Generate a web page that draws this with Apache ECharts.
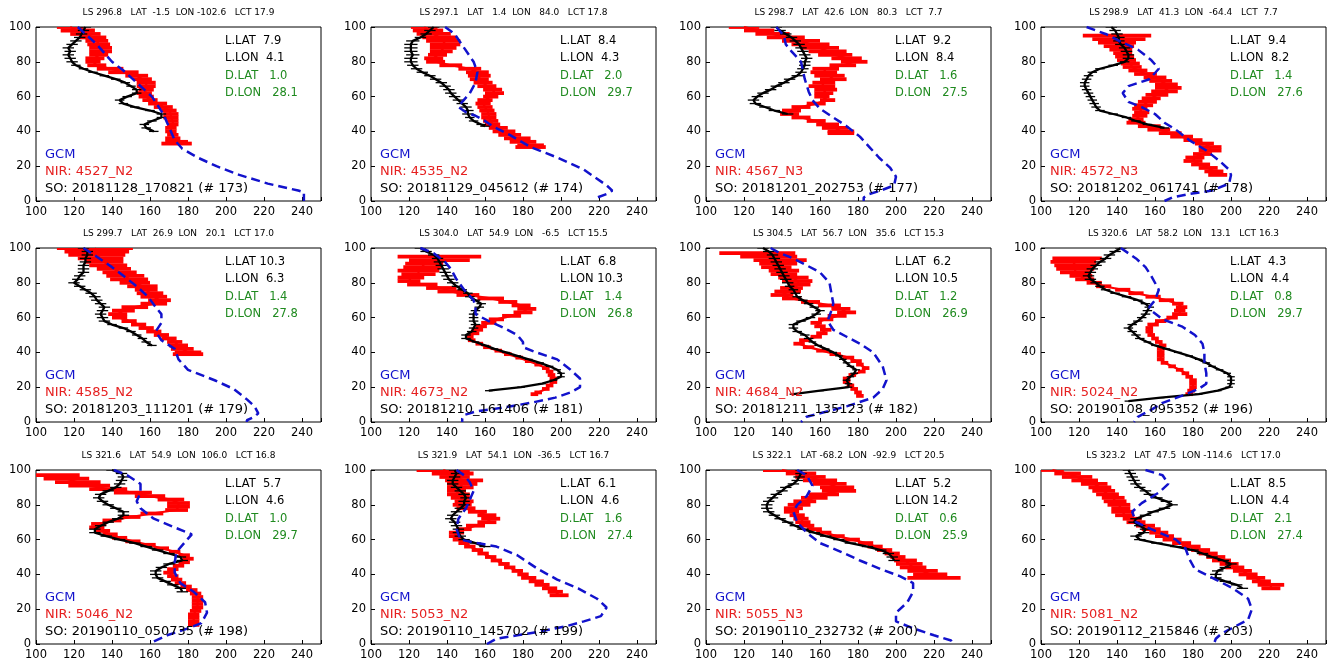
<!DOCTYPE html>
<html>
<head>
<meta charset="utf-8">
<script src="https://cdn.jsdelivr.net/npm/echarts@6/dist/echarts.min.js"></script>
<style>
  html, body { margin: 0; padding: 0; background: #fff; }
  #chart { width: 1329px; height: 664px; }
</style>
</head>
<body>
<div id="chart"></div>
<script>
// ---- Occultation metadata (one entry per panel) ----
const lsVals  = [296.8, 297.1, 298.7, 298.9, 299.7, 304.0, 304.5, 320.6, 321.6, 321.9, 322.1, 323.2];
const latVals = [-1.5, 1.4, 42.6, 41.3, 26.9, 54.9, 56.7, 58.2, 54.9, 54.1, -68.2, 47.5];
const lonVals = [-102.6, 84.0, 80.3, -64.4, 20.1, -6.5, 35.6, 13.1, 106.0, -36.5, -92.9, -114.6];
const lctVals = [17.9, 17.8, 7.7, 7.7, 17.0, 15.5, 15.3, 16.3, 16.8, 16.7, 20.5, 17.0];
const lLat = [7.9, 8.4, 9.2, 9.4, 10.3, 6.8, 6.2, 4.3, 5.7, 6.1, 5.2, 8.5];
const lLon = [4.1, 4.3, 8.4, 8.2, 6.3, 10.3, 10.5, 4.4, 4.6, 4.6, 14.2, 4.4];
const dLat = [1.0, 2.0, 1.6, 1.4, 1.4, 1.4, 1.2, 0.8, 1.0, 1.6, 0.6, 2.1];
const dLon = [28.1, 29.7, 27.5, 27.6, 27.8, 26.8, 26.9, 29.7, 29.7, 27.4, 25.9, 27.4];
const nirIds = ['4527_N2', '4535_N2', '4567_N3', '4572_N3', '4585_N2', '4673_N2',
                '4684_N2', '5024_N2', '5046_N2', '5053_N2', '5055_N3', '5081_N2'];
const soIds = ['20181128_170821', '20181129_045612', '20181201_202753', '20181202_061741',
               '20181203_111201', '20181210_161406', '20181211_135123', '20190108_095352',
               '20190110_050735', '20190110_145702', '20190110_232732', '20190112_215846'];
const soNums = [173, 174, 177, 178, 179, 181, 182, 196, 198, 199, 200, 203];

// ---- Axis ticks ----
const tempTicks = [100, 120, 140, 160, 180, 200, 220, 240];
const altTicks = [0, 20, 40, 60, 80, 100];

// ---- GCM profiles: [altitude km, temperature K] ----
const gcm_173 = [[100,122],[95,127],[90,132],[85,136],[80,140],[75,146],[70,151],[65,156],[60,161],[55,164],[50,167],[45,169],[40,171],[35,173],[30,177],[25,185],[20,195],[15,207],[10,222],[6,238],[5,241],[0,241]];
const gcm_174 = [[100,139],[96,144],[88,149],[80,154],[74,156],[68,155],[62,152],[57,148],[54,146],[51,150],[49,155],[46,160],[43,164],[38,173],[31,184],[25,198],[18,212],[9,224],[6,227],[4,224],[2,219],[0,219]];
const gcm_177 = [[100,137],[95,141],[90,142],[86,145],[80,150],[75,151],[70,152],[63,154],[58,156],[53,160],[48,167],[43,174],[37,181],[31,186],[25,191],[19,197],[14,200],[9,199],[6,192],[4,186],[2,183],[0,183]];
const gcm_178 = [[100,124],[96,134],[91,143],[87,151],[81,158],[76,162],[70,157],[66,146],[62,143],[57,146],[54,153],[50,160],[45,165],[41,171],[35,178],[29,187],[23,194],[18,199],[15,200],[10,199],[6,190],[4,178],[2,169],[0,165]];
const gcm_179 = [[100,125],[95,132],[89,140],[84,146],[78,153],[72,159],[66,163],[62,166],[57,166],[52,163],[47,166],[42,173],[36,175],[30,180],[24,194],[19,204],[13,211],[9,215],[5,217],[3,215],[1,211],[0,211]];
const gcm_181 = [[100,126],[97,133],[92,139],[88,142],[82,145],[76,149],[70,154],[66,155],[62,155],[58,162],[54,170],[50,177],[46,180],[43,180],[40,187],[36,198],[30,205],[25,210],[20,210],[17,205],[14,197],[11,184],[8,168],[6,155],[4,149],[2,148],[0,148]];
const gcm_182 = [[100,134],[97,139],[94,146],[90,153],[86,160],[80,165],[74,166],[68,167],[64,166],[58,164],[53,167],[49,174],[45,181],[40,188],[32,193],[24,195],[19,193],[14,188],[9,174],[5,160],[3,153],[0,150]];
const gcm_196 = [[100,142],[97,146],[94,150],[89,155],[84,158],[76,162],[70,160],[66,157],[64,158],[59,164],[55,174],[50,181],[45,185],[40,186],[34,186],[28,187],[22,187],[19,183],[15,174],[11,164],[7,158],[3,151],[0,149]];
const gcm_198 = [[100,141],[97,148],[92,155],[87,155],[82,153],[78,155],[72,162],[67,173],[63,182],[58,178],[53,174],[47,173],[41,173],[35,176],[30,183],[24,189],[18,190],[12,187],[9,180],[5,169],[1,161],[0,162]];
const gcm_199 = [[100,145],[97,149],[93,152],[88,154],[83,152],[78,150],[72,146],[66,145],[60,147],[58,156],[56,166],[51,177],[43,188],[37,198],[32,209],[26,219],[21,224],[16,221],[13,212],[10,202],[7,188],[5,177],[3,166],[0,161]];
const gcm_200 = [[100,148],[97,153],[91,156],[85,153],[80,148],[76,146],[70,148],[64,153],[58,160],[53,171],[48,181],[43,192],[39,202],[35,209],[30,209],[24,206],[18,200],[13,200],[9,209],[5,220],[2,229],[0,230]];
const gcm_203 = [[100,155],[97,164],[92,167],[87,162],[81,153],[76,148],[70,150],[66,158],[60,171],[55,176],[49,178],[43,181],[37,192],[32,201],[26,209],[20,211],[14,209],[10,202],[6,195],[3,192],[0,191]];

// ---- NOMAD NIR retrievals: [altitude km, temperature K, 1-sigma K] ----
const nir_4527 = [[100,118,7],[98,122,9],[96,126,8],[94,130,7],[92,132,6],[90,133,6],[88,134,6],[86,134,6],[84,133,5],[82,131,5],[80,130,4],[78,132,5],[76,139,7],[74,146,8],[72,153,6],[70,156,5],[68,158,5],[66,158,5],[64,158,4],[62,157,4],[60,158,4],[58,160,4],[56,164,5],[54,167,5],[52,170,4],[50,171,4],[48,171,4],[46,172,3],[44,172,3],[42,171,3],[40,171,3],[38,172,3],[36,172,4],[34,174,6],[33,174,8]];
const nir_4535 = [[100,128,7],[98,130,8],[96,133,9],[94,136,9],[92,138,9],[90,139,8],[88,138,7],[86,137,6],[84,135,5],[82,133,5],[80,134,5],[78,142,6],[76,152,6],[74,156,6],[72,157,6],[70,157,5],[68,159,5],[66,161,5],[64,164,5],[62,165,5],[60,163,4],[58,160,4],[56,159,4],[54,160,4],[52,161,4],[50,162,4],[48,162,4],[46,163,4],[44,164,4],[42,167,5],[40,170,6],[38,173,6],[36,177,7],[34,180,7],[32,184,7],[31,184,8]];
const nir_4567 = [[100,120,8],[98,128,8],[96,135,9],[94,142,10],[92,150,10],[90,155,10],[88,160,10],[86,164,10],[84,168,9],[82,174,8],[80,178,7],[78,172,7],[76,163,7],[74,162,7],[72,165,8],[70,167,7],[68,162,6],[66,161,7],[64,163,6],[62,162,5],[60,161,4],[58,164,4],[56,158,5],[54,150,5],[52,145,5],[50,144,5],[48,150,5],[46,158,5],[44,164,6],[42,168,7],[40,171,7],[39,171,7]];
const nir_4572 = [[95,140,18],[93,141,14],[91,140,10],[89,141,8],[87,142,6],[85,143,5],[83,144,5],[81,145,5],[79,147,5],[77,148,5],[75,151,5],[73,155,6],[71,160,6],[69,163,6],[67,166,6],[65,167,7],[63,165,7],[61,161,6],[59,158,5],[57,156,5],[55,154,5],[53,152,4],[51,153,4],[49,152,4],[47,150,4],[45,150,5],[43,157,6],[41,162,6],[39,168,6],[37,174,6],[35,180,5],[33,186,5],[31,189,6],[29,189,6],[27,185,5],[25,181,5],[23,180,5],[21,184,5],[19,188,5],[17,191,5],[15,193,5]];
const nir_4585 = [[100,131,20],[98,132,17],[96,132,15],[94,134,12],[92,136,10],[90,138,10],[88,141,9],[86,144,9],[84,147,10],[82,149,10],[80,152,8],[78,156,8],[76,158,6],[74,160,7],[72,162,7],[70,165,6],[68,162,7],[66,152,7],[64,146,6],[62,143,5],[60,144,4],[58,149,4],[56,154,4],[54,158,4],[52,162,4],[50,166,4],[48,170,4],[46,173,4],[44,175,5],[42,177,6],[40,180,7],[39,180,8]];
const nir_4673 = [[95,136,22],[93,136,16],[91,128,10],[89,127,10],[87,125,11],[85,125,9],[83,121,7],[81,120,6],[79,127,8],[77,137,8],[75,142,7],[73,151,6],[71,163,7],[69,172,5],[67,179,5],[65,182,5],[63,180,5],[61,174,5],[59,166,4],[57,162,4],[55,158,3],[53,156,3],[51,154,3],[49,152,2],[47,153,2],[45,157,2],[43,161,2],[41,167,2],[39,172,2],[37,178,2],[35,183,2],[33,188,2],[31,192,2],[29,194,2],[27,195,2],[25,196,2],[23,196,2],[21,194,2],[19,192,2],[17,188,2],[16,186,2]];
const nir_4684 = [[97,127,20],[95,133,15],[93,139,14],[91,138,10],[89,137,8],[87,141,8],[85,141,7],[83,146,8],[81,148,8],[79,149,6],[77,145,6],[75,143,7],[73,140,6],[71,145,5],[69,155,5],[67,165,6],[65,171,5],[63,174,5],[61,169,5],[59,163,4],[57,158,3],[55,160,3],[53,163,3],[51,161,3],[49,158,3],[47,152,3],[45,149,3],[43,154,3],[41,161,3],[39,168,3],[37,175,3],[35,179,3],[33,181,2],[31,184,2],[29,182,2],[27,177,2],[25,174,2],[23,174,2],[21,176,2],[19,178,2],[17,180,2],[15,181,2]];
const nir_5024 = [[94,119,13],[92,117,12],[90,118,11],[88,118,10],[86,118,8],[84,121,6],[82,123,5],[80,128,4],[78,133,4],[76,143,4],[74,150,4],[72,159,4],[70,166,4],[68,172,3],[66,174,3],[64,173,3],[62,173,4],[60,169,3],[58,163,3],[56,159,3],[54,157,2],[52,157,2],[50,158,2],[48,160,2],[46,162,2],[44,164,2],[42,163,2],[40,163,2],[38,163,2],[36,163,2],[34,165,2],[32,169,2],[30,173,2],[28,176,2],[26,178,2],[24,180,2],[22,180,2],[20,180,2],[18,179,2],[16,178,2]];
const nir_5046 = [[97,111,12],[95,116,12],[93,122,12],[91,128,11],[89,138,10],[87,151,10],[85,160,8],[83,171,7],[81,175,6],[79,175,6],[77,174,6],[75,161,6],[73,150,5],[71,140,5],[69,133,4],[67,132,4],[65,135,4],[63,139,4],[61,144,4],[59,151,4],[57,159,4],[55,166,4],[53,173,3],[51,178,3],[49,180,3],[47,178,3],[45,175,3],[43,172,3],[41,170,3],[39,172,3],[37,174,3],[35,176,3],[33,179,3],[31,182,3],[29,184,3],[27,185,3],[25,185,3],[23,185,3],[21,185,3],[19,184,3],[17,183,3],[15,183,3],[13,183,3],[11,183,3]];
const nir_5053 = [[100,138,14],[98,143,11],[96,144,8],[94,149,10],[92,148,8],[90,147,7],[88,145,5],[86,146,6],[84,147,5],[82,149,5],[80,148,5],[78,150,5],[76,156,5],[74,161,5],[72,163,5],[70,161,5],[68,155,5],[66,149,4],[64,145,4],[62,144,3],[60,146,3],[58,149,3],[56,152,3],[54,156,3],[52,159,3],[50,163,3],[48,166,3],[46,170,3],[44,173,3],[42,177,3],[40,180,3],[38,183,4],[36,187,4],[34,190,4],[32,194,4],[30,197,4],[28,199,5]];
const nir_5055 = [[100,140,10],[98,150,8],[96,155,8],[94,160,9],[92,165,9],[90,169,9],[88,170,9],[86,162,8],[84,157,7],[82,152,6],[80,149,6],[78,146,5],[76,145,4],[74,148,4],[72,150,4],[70,151,4],[68,153,4],[66,157,4],[64,162,4],[62,169,4],[60,177,4],[58,184,4],[56,189,4],[54,194,4],[52,198,4],[50,201,4],[48,205,6],[46,207,7],[44,209,7],[42,214,8],[40,218,9],[38,220,14]];
const nir_5081 = [[100,106,6],[98,114,7],[96,119,8],[94,123,7],[92,128,7],[90,131,6],[88,133,6],[86,135,6],[84,138,6],[82,139,6],[80,141,6],[78,142,5],[76,143,6],[74,144,5],[72,148,5],[70,150,5],[68,155,5],[66,158,5],[64,162,5],[62,165,5],[60,169,5],[58,174,5],[56,179,5],[54,184,5],[52,188,5],[50,192,5],[48,195,5],[46,199,5],[44,202,5],[42,206,5],[40,209,5],[38,213,5],[36,216,5],[34,221,7],[32,221,5]];

// ---- ACS/SO retrievals: [altitude km, temperature K, 1-sigma K] ----
const so_173 = [[100,126,3],[98,125,3],[96,124,3],[94,123,3],[92,121,3],[90,119,3],[88,117,3],[86,118,3],[84,117,3],[82,118,3],[80,119,3],[78,121,2.5],[76,125,2.5],[74,130,2.5],[72,136,2.5],[70,142,2.5],[68,147,2.5],[66,150,2.5],[64,153,2.5],[62,153,2.5],[60,148,2.5],[58,144,2.5],[56,146,2.5],[54,152,2.5],[52,160,2.5],[50,166,2.5],[48,166,2.5],[46,161,2.5],[44,157,2.5],[42,158,2.5],[40,162,2.5]];
const so_174 = [[100,133,3],[98,131,3],[96,129,3],[94,126,3],[92,122,3.5],[90,121,3.5],[88,121,3.5],[86,121,3.5],[84,122,3.5],[82,121,3.5],[80,121,3.5],[78,122,3],[76,124,3],[74,127,3],[72,131,3],[70,134,3],[68,137,3],[66,139,3],[64,141,3],[62,142,3],[60,144,3],[58,146,3],[56,148,3],[54,150,3],[52,151,3],[50,151,3],[48,152,2.5],[46,154,2.5],[44,158,2.5],[43,160,2.5]];
const so_177 = [[100,137,3],[98,139,3],[96,142,3],[94,145,3],[92,147,3],[90,149,3],[88,150,3],[86,151,3],[84,152,3],[82,153,3],[80,152,3],[78,152,3],[76,151,3],[74,150,3],[72,148,3],[70,144,3],[68,141,3],[66,137,3],[64,134,3],[62,130,3],[60,127,3],[58,125,3],[56,126,3],[54,131,3],[52,136,3],[50,143,3]];
const so_178 = [[100,137,3],[98,139,3],[96,140,3],[94,141,3],[92,141,3],[90,142,3],[88,144,3],[86,145,3],[84,146,3],[82,146,3],[80,144,2.5],[78,138,2.5],[76,131,2.5],[74,127,2.5],[72,125,2.5],[70,124,2.5],[68,123,2.5],[66,123,2.5],[64,124,2.5],[62,125,2.5],[60,126,2.5],[58,127,2.5],[56,128,2.5],[54,129,2.5],[52,131,2.5],[50,138,2.5],[48,145,2.5],[46,150,2.5],[44,156,2.5],[42,165,2.5]];
const so_179 = [[100,125,3],[98,127,3],[96,127,3],[94,126,3],[92,126,3],[90,125,3],[88,125,3],[86,125,3],[84,123,3],[82,122,3],[80,120,3],[78,123,3],[76,126,3],[74,129,3],[72,131,3],[70,132,3],[68,134,3],[66,136,3],[64,135,3],[62,134,3],[60,135,3],[58,136,3],[56,140,2.5],[54,146,2.5],[52,150,2.5],[50,153,2.5],[48,156,2.5],[46,158,2.5],[44,161,2.5]];
const so_181 = [[100,126,3],[98,129,3],[96,133,3],[94,135,3],[92,136,3],[90,137,3],[88,138,3],[86,139,3],[84,140,3],[82,141,3],[80,143,3],[78,145,2.5],[76,148,2.5],[74,151,2.5],[72,152,2.5],[70,155,2.5],[68,158,2.5],[66,157,2.5],[64,155,2.5],[62,154,2.5],[60,154,2.5],[58,154,2.5],[56,155,2.5],[54,154,2.5],[52,153,2.5],[50,150,2.5],[48,150,2.5],[46,155,2],[44,160,2],[42,165,2],[40,171,2],[38,177,2],[36,183,2],[34,189,2],[32,194,2],[30,198,2],[28,200,2],[26,200,2],[24,196,2],[22,190,2],[20,179,2],[18,162,2]];
const so_182 = [[100,130,3],[98,133,3],[96,135,3],[94,136,3],[92,137,3],[90,138,3],[88,139,3],[86,140,3],[84,141,3],[82,142,3],[80,143,3],[78,144,2.5],[76,146,2.5],[74,147,2.5],[72,148,2.5],[70,151,2.5],[68,154,2.5],[66,157,2.5],[64,160,2.5],[62,158,2.5],[60,155,2.5],[58,150,2.5],[56,146,2.5],[54,146,2.5],[52,148,2.5],[50,152,2.5],[48,154,2.5],[46,156,2],[44,159,2],[42,163,2],[40,167,2],[38,170,2],[36,172,2],[34,174,2],[32,176,2],[30,179,2],[28,178,2],[26,176,2],[24,174,2],[22,175,2],[20,175,2],[18,160,2],[16,146,2]];
const so_196 = [[100,142,3],[98,139,3],[96,136,3],[94,134,3],[92,131,3],[90,129,3],[88,127,3],[86,126,3],[84,125,3],[82,126,3],[80,129,3],[78,131,2.5],[76,134,2.5],[74,139,2.5],[72,145,2.5],[70,151,2.5],[68,155,2.5],[66,157,2.5],[64,156,2.5],[62,155,2.5],[60,153,2.5],[58,151,2.5],[56,148,2.5],[54,146,2.5],[52,148,2.5],[50,150,2.5],[48,152,2.5],[46,156,2],[44,160,2],[42,166,2],[40,172,2],[38,178,2],[36,183,2],[34,187,2],[32,190,2],[30,194,2],[28,198,2],[26,200,2],[24,200,2],[22,200,2],[20,199,2],[18,193,2],[16,183,2],[14,163,2],[12,146,2]];
const so_198 = [[100,140,3],[98,145,3],[96,146,3],[94,145,3],[92,144,3],[90,142,3],[88,138,3],[86,134,3],[84,133,3],[82,135,3],[80,138,3],[78,142,3],[76,146,3],[74,146,3],[72,143,3],[70,138,3],[68,134,3],[66,131,3],[64,131,3],[62,137,3],[60,144,3],[58,152,3],[56,158,3],[54,164,3],[52,170,3],[50,176,3],[48,177,3],[46,170,3],[44,166,3],[42,163,3],[40,163,3],[38,164,3],[36,168,3],[34,172,3],[32,176,3],[30,177,3]];
const so_199 = [[100,144,3],[98,145,3],[96,144,3],[94,143,3],[92,143,3],[90,145,3],[88,147,3],[86,149,3],[84,150,3],[82,149,3],[80,149,3],[78,147,3],[76,145,3],[74,143,3],[72,142,3],[70,144,3],[68,145,3],[66,146,3],[64,146,3],[62,147,3],[60,149,3],[58,155,3],[56,160,3]];
const so_200 = [[100,150,3],[98,150,3],[96,149,3],[94,148,3],[92,146,3],[90,142,3],[88,140,3],[86,137,3],[84,135,3],[82,133,3],[80,132,3],[78,132,3],[76,133,3],[74,136,3],[72,139,3],[70,143,3],[68,147,3],[66,151,3],[64,157,3],[62,163,3],[60,170,3],[58,176,3],[56,185,3],[54,192,3],[52,196,3],[50,198,3],[48,199,3]];
const so_203 = [[100,146,3],[98,147,3],[96,148,3],[94,149,3],[92,150,3],[90,152,3],[88,155,3],[86,157,3],[84,161,3],[82,166,3],[80,169,3],[78,165,3],[76,159,3],[74,155,3],[72,150,3],[70,149,3],[68,152,3],[66,155,3],[64,154,3],[62,150,3],[60,152,3],[58,161,3],[56,171,3],[54,180,3],[52,185,3],[50,190,3],[48,196,3],[46,200,3],[44,197,3],[42,193,3],[40,192,3],[38,192,3],[36,197,3],[34,203,3],[32,206,3]];

// Panel order: row by row, four per row
const gcmProfiles = [gcm_173, gcm_174, gcm_177, gcm_178, gcm_179, gcm_181, gcm_182, gcm_196, gcm_198, gcm_199, gcm_200, gcm_203];
const nirProfiles = [nir_4527, nir_4535, nir_4567, nir_4572, nir_4585, nir_4673, nir_4684, nir_5024, nir_5046, nir_5053, nir_5055, nir_5081];
const soProfiles = [so_173, so_174, so_177, so_178, so_179, so_181, so_182, so_196, so_198, so_199, so_200, so_203];

// ---- Layout ----
const COL_LEFT = [36, 371, 706, 1041];
const ROW_TOP = [27, 248, 470];
const PLOT_W = 285, PLOT_H = 174;
const FONT = '"DejaVu Sans", sans-serif';
const BLUE = '#1212cc', RED = '#ff0000', GREEN = '#1f8a1f';

const fmt = (v, w) => v.toFixed(1).padStart(w, ' ');

// Horizontal 1-sigma bar at every retrieval level
function errorBars(color, width) {
  return function (params, api) {
    const t = api.value(0), a = api.value(1), e = api.value(2);
    const p0 = api.coord([t - e, a]);
    const p1 = api.coord([t + e, a]);
    return {
      type: 'line',
      shape: { x1: p0[0], y1: p0[1], x2: p1[0], y2: p1[1] },
      style: { stroke: color, lineWidth: width }
    };
  };
}

const grids = [], xAxes = [], yAxes = [], series = [], graphics = [];

for (let i = 0; i < 12; i++) {
  const left = COL_LEFT[i % 4];
  const top = ROW_TOP[Math.floor(i / 4)];

  grids.push({ left, top, width: PLOT_W, height: PLOT_H, show: true,
    borderColor: '#000', borderWidth: 1, backgroundColor: '#fff' });

  xAxes.push({
    gridIndex: i, type: 'value', min: 100, max: 250, interval: 20,
    axisLine: { show: false },
    axisTick: { show: true, inside: true, length: 4, lineStyle: { color: '#000' } },
    splitLine: { show: false },
    axisLabel: { color: '#000', fontSize: 11.5, fontFamily: FONT, margin: 5,
      formatter: v => (tempTicks.includes(v) ? String(v) : '') }
  });
  yAxes.push({
    gridIndex: i, type: 'value', min: 0, max: 100, interval: 20,
    axisLine: { show: false },
    axisTick: { show: true, inside: true, length: 4, lineStyle: { color: '#000' } },
    splitLine: { show: false },
    axisLabel: { color: '#000', fontSize: 11.5, fontFamily: FONT, margin: 5,
      formatter: v => (altTicks.includes(v) ? String(v) : '') }
  });

  const nir = nirProfiles[i], so = soProfiles[i], gcm = gcmProfiles[i];

  series.push({
    type: 'custom', xAxisIndex: i, yAxisIndex: i, clip: true, z: 2,
    renderItem: errorBars(RED, 3.8), encode: { x: 0, y: 1 },
    data: nir.map(d => [d[1], d[0], d[2]])
  });
  series.push({
    type: 'line', xAxisIndex: i, yAxisIndex: i, z: 3, showSymbol: false, symbol: 'none',
    lineStyle: { color: RED, width: 2.2 }, data: nir.map(d => [d[1], d[0]])
  });
  series.push({
    type: 'custom', xAxisIndex: i, yAxisIndex: i, clip: true, z: 4,
    renderItem: errorBars('#000', 1.3), encode: { x: 0, y: 1 },
    data: so.map(d => [d[1], d[0], d[2]])
  });
  series.push({
    type: 'line', xAxisIndex: i, yAxisIndex: i, z: 5, showSymbol: false, symbol: 'none',
    lineStyle: { color: '#000', width: 2.3 }, data: so.map(d => [d[1], d[0]])
  });
  series.push({
    type: 'line', xAxisIndex: i, yAxisIndex: i, z: 6, showSymbol: false, symbol: 'none',
    lineStyle: { color: BLUE, width: 2.5, type: [9, 5] }, data: gcm.map(d => [d[1], d[0]])
  });

  const txt = (x, y, text, color, size, align) => ({
    type: 'text', x, y, z: 100, silent: true,
    style: { text, fill: color, font: size + 'px ' + FONT, align: align || 'left', verticalAlign: 'middle' }
  });

  graphics.push(txt(left + PLOT_W / 2, top - 14,
    'LS ' + fmt(lsVals[i], 5) + '   LAT ' + fmt(latVals[i], 5) + '  LON ' + fmt(lonVals[i], 6) +
    '   LCT ' + fmt(lctVals[i], 4), '#000', 9, 'center'));

  const tx = left + 189;
  graphics.push(txt(tx, top + 14, 'L.LAT ' + fmt(lLat[i], 4), '#000', 11.5));
  graphics.push(txt(tx, top + 31.3, 'L.LON ' + fmt(lLon[i], 4), '#000', 11.5));
  graphics.push(txt(tx, top + 48.6, 'D.LAT   ' + dLat[i].toFixed(1), GREEN, 11.5));
  graphics.push(txt(tx, top + 65.9, 'D.LON   ' + dLon[i].toFixed(1), GREEN, 11.5));

  const lx = left + 9;
  graphics.push(txt(lx, top + 127.3, 'GCM', BLUE, 13));
  graphics.push(txt(lx, top + 144.6, 'NIR: ' + nirIds[i], '#e62020', 13));
  graphics.push(txt(lx, top + 161.9, 'SO: ' + soIds[i] + ' (# ' + soNums[i] + ')', '#000', 13));
}

const chart = echarts.init(document.getElementById('chart'), null, { renderer: 'canvas' });
chart.setOption({
  animation: false,
  backgroundColor: '#fff',
  grid: grids,
  xAxis: xAxes,
  yAxis: yAxes,
  series: series,
  graphic: graphics
});
</script>
</body>
</html>
